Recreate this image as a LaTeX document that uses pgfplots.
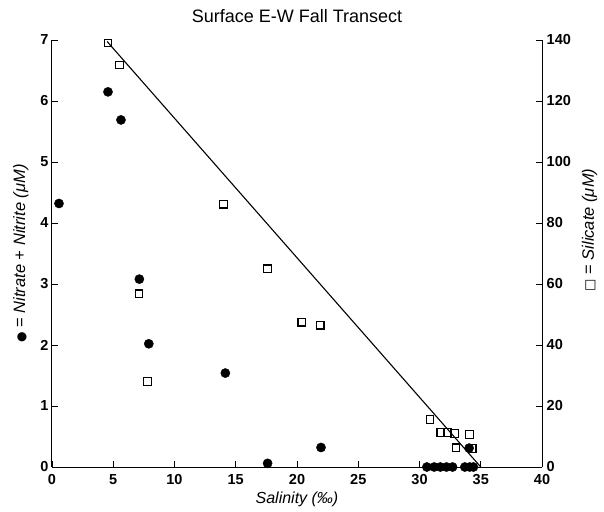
\documentclass[border=0pt]{standalone}
\usepackage{fontspec}
\setmainfont{Liberation Sans}
\newfontfamily\symfont{DejaVu Sans}
\usepackage{pgfplots}
\pgfplotsset{compat=1.18}
\begin{document}
\begin{tikzpicture}
\path[use as bounding box] (-52pt,-44pt) rectangle (552pt,467pt);
\begin{axis}[
  at={(0pt,0pt)}, anchor=south west,
  scale only axis, width=490pt, height=427pt,
  xmin=0, xmax=40, ymin=0, ymax=7,
  axis x line*=bottom, axis y line*=left,
  axis line style={line width=1pt, black},
  xtick={0,5,...,40}, ytick={0,1,...,7},
  tick align=inside, major tick length=6pt,
  tick style={line width=0.9pt, black},
  ticklabel style={font=\bfseries\fontsize{14.5}{16}\selectfont},
  xticklabel style={inner sep=1pt, yshift=-6pt},
  /pgf/number format/assume math mode=true,
  xlabel={Salinity (‰)},
  xlabel style={font=\itshape\fontsize{16}{18}\selectfont, at={(axis description cs:0.5,-0.0843)}, anchor=base},
  ylabel={{\symfont\fontsize{12}{14}\selectfont ●} = \itshape Nitrate + Nitrite (μM)},
  ylabel style={font=\fontsize{16.5}{18}\selectfont, at={(axis description cs:-0.0551,0.5)}, anchor=base},
  title={Surface E-W Fall Transect},
  title style={font=\fontsize{18}{20}\selectfont, at={(axis description cs:0.5,1.028)}, anchor=base},
  clip=false,
]
\addplot[only marks, mark=*, mark size=4.6pt, black] coordinates {
  (0.57,4.32) (4.57,6.15) (5.63,5.69) (7.13,3.08) (7.9,2.02) (14.15,1.54)
  (17.6,0.06) (21.96,0.32)
  (30.6,0) (31.2,0) (31.7,0) (32.2,0) (32.7,0) (33.7,0) (34.1,0) (34.4,0)
  (34.05,0.31)
};
\end{axis}
\begin{axis}[
  at={(0pt,0pt)}, anchor=south west,
  scale only axis, width=490pt, height=427pt,
  xmin=0, xmax=40, ymin=0, ymax=140,
  axis x line=none, axis y line*=right,
  axis line style={line width=1pt, black},
  ytick={0,20,...,140},
  tick align=inside, major tick length=6pt,
  tick style={line width=0.9pt, black},
  ticklabel style={font=\bfseries\fontsize{14.5}{16}\selectfont},
  yticklabel style={inner sep=1pt, xshift=3.5pt},
  /pgf/number format/assume math mode=true,
  ylabel={{\symfont\fontsize{13}{14}\selectfont □} = \itshape Silicate (μM)},
  ylabel style={font=\fontsize{16.5}{18}\selectfont, at={(axis description cs:1.106,0.555)}, anchor=base},
  clip=false,
]
\addplot[black, line width=1.1pt] coordinates {(4.5,139.5) (35,0)};
\addplot[only marks, mark=square, mark size=3.8pt, black, mark options={line width=1.3pt, fill=white}] coordinates {
  (4.57,139) (5.5,131.8) (7.1,56.8) (7.8,28) (14.0,86.2) (17.6,65)
  (20.4,47.5) (21.9,46.5) (30.86,15.6) (31.75,11.3) (32.25,11.3) (32.85,11.0)
  (34.07,10.7) (32.98,6.3) (34.3,6.1)
};
\end{axis}
\end{tikzpicture}
\end{document}
